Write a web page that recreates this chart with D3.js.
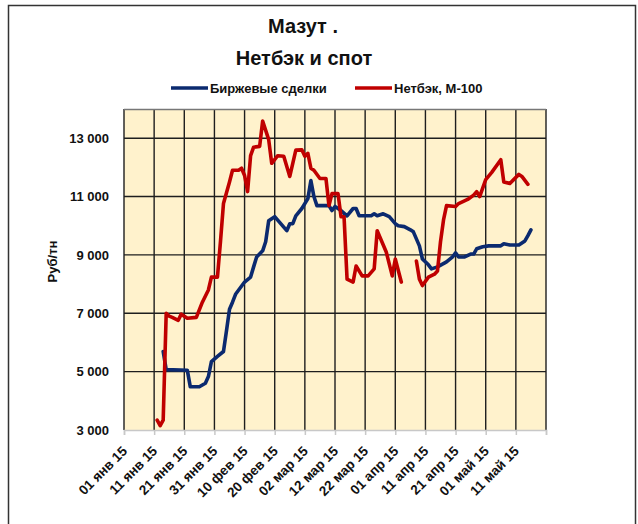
<!DOCTYPE html>
<html>
<head>
<meta charset="utf-8">
<script src="https://cdn.jsdelivr.net/npm/d3@7"></script>
<style>
  body { margin: 0; background: #fff; }
  svg { display: block; font-family: 'Liberation Sans', Arial, sans-serif; }
</style>
</head>
<body>
<div id="wrapper"></div>
<script>
// Биржевые сделки (spot)
const spotDates = [
  '2015-01-14', '2015-01-15', '2015-01-22', '2015-01-23', '2015-01-26', '2015-01-28',
  '2015-01-29', '2015-01-30', '2015-02-01', '2015-02-03', '2015-02-04', '2015-02-05',
  '2015-02-06', '2015-02-07', '2015-02-10', '2015-02-12', '2015-02-13', '2015-02-14',
  '2015-02-16', '2015-02-17', '2015-02-18', '2015-02-20', '2015-02-22', '2015-02-24',
  '2015-02-25', '2015-02-26', '2015-02-27', '2015-03-01', '2015-03-03', '2015-03-04',
  '2015-03-05', '2015-03-06', '2015-03-10', '2015-03-11', '2015-03-12', '2015-03-14',
  '2015-03-16', '2015-03-18', '2015-03-19', '2015-03-20', '2015-03-24', '2015-03-25',
  '2015-03-26', '2015-03-28', '2015-03-30', '2015-04-01', '2015-04-02', '2015-04-04',
  '2015-04-06', '2015-04-07', '2015-04-09', '2015-04-10', '2015-04-12', '2015-04-13',
  '2015-04-15', '2015-04-18', '2015-04-20', '2015-04-21', '2015-04-22', '2015-04-24',
  '2015-04-26', '2015-04-27', '2015-04-28', '2015-04-30', '2015-05-02', '2015-05-06',
  '2015-05-07', '2015-05-09', '2015-05-12', '2015-05-14', '2015-05-15', '2015-05-16',
]
const spotValues = [
  5690, 5070, 5050, 4480, 4480, 4600,
  4830, 5340, 5520, 5690, 6400, 7140,
  7380, 7650, 8070, 8240, 8590, 8930,
  9140, 9450, 10170, 10310, 10070, 9830,
  10070, 10070, 10340, 10590, 10930, 11550,
  11000, 10690, 10690, 10520, 10660, 10520,
  10340, 10590, 10590, 10340, 10340, 10410,
  10340, 10410, 10310, 10070, 10000, 9970,
  9860, 9790, 9310, 8860, 8660, 8520,
  8590, 8760, 8930, 9070, 8930, 8930,
  9030, 9030, 9210, 9280, 9310, 9310,
  9380, 9340, 9340, 9480, 9660, 9860,
]

// Нетбэк, М-100 (null = no data)
const netbackDates = [
  '2015-01-12', '2015-01-13', '2015-01-14', '2015-01-15', '2015-01-16', '2015-01-17',
  '2015-01-19', '2015-01-20', '2015-01-22', '2015-01-25', '2015-01-27', '2015-01-29',
  '2015-01-30', '2015-02-01', '2015-02-02', '2015-02-03', '2015-02-05', '2015-02-06',
  '2015-02-08', '2015-02-09', '2015-02-10', '2015-02-11', '2015-02-12', '2015-02-13',
  '2015-02-15', '2015-02-16', '2015-02-18', '2015-02-19', '2015-02-21', '2015-02-23',
  '2015-02-25', '2015-02-27', '2015-03-01', '2015-03-02', '2015-03-03', '2015-03-04',
  '2015-03-05', '2015-03-07', '2015-03-09', '2015-03-10', '2015-03-11', '2015-03-13',
  '2015-03-14', '2015-03-15', '2015-03-16', '2015-03-18', '2015-03-19', '2015-03-21',
  '2015-03-23', '2015-03-25', '2015-03-26', '2015-03-29', '2015-03-31', '2015-04-01',
  '2015-04-03', '2015-04-05', '2015-04-08', '2015-04-09', '2015-04-10', '2015-04-12',
  '2015-04-14', '2015-04-15', '2015-04-16', '2015-04-17', '2015-04-18', '2015-04-21',
  '2015-04-22', '2015-04-25', '2015-04-27', '2015-04-28', '2015-04-29', '2015-05-01',
  '2015-05-03', '2015-05-06', '2015-05-07', '2015-05-09', '2015-05-12', '2015-05-13',
  '2015-05-15',
]
const netbackValues = [
  3340, 3150, 3340, 7000, 6900, 6860,
  6760, 6970, 6830, 6860, 7380, 7800,
  8240, 8240, 9450, 10760, 11500, 11900,
  11900, 11970, 11720, 11170, 12400, 12690,
  12720, 13590, 12950, 12140, 12400, 12380,
  11690, 12590, 12600, 12380, 12480, 11970,
  11900, 11620, 11620, 10690, 11100, 11100,
  10310, 10310, 8170, 8070, 8620, 8280,
  8280, 8520, 9830, 9100, 8280, 8860,
  8070, null, 8790, 8170, 7950, 8240,
  8340, 8450, 9450, 10200, 10690, 10660,
  10760, 10900, 11050, 11170, 11000, 11580,
  11830, 12260, 11500, 11450, 11760, 11690,
  11420,
]

const xTickDates = [
  '2015-01-01', '2015-01-11', '2015-01-21', '2015-01-31', '2015-02-10', '2015-02-20',
  '2015-03-02', '2015-03-12', '2015-03-22', '2015-04-01', '2015-04-11', '2015-04-21',
  '2015-05-01', '2015-05-11',
]
const xTickLabels = [
  '01 янв 15', '11 янв 15', '21 янв 15', '31 янв 15', '10 фев 15', '20 фев 15',
  '02 мар 15', '12 мар 15', '22 мар 15', '01 апр 15', '11 апр 15', '21 апр 15',
  '01 май 15', '11 май 15',
]
const yTicks = [3000, 5000, 7000, 9000, 11000, 13000]

const seriesNames = ['Биржевые сделки', 'Нетбэк, М-100']
const seriesColors = ['#0b2a6f', '#c00000']

const parseDate = d3.timeParse('%Y-%m-%d')

const dimensions = {
  width: 638,
  height: 524,
  margin: { top: 109, right: 92, bottom: 94, left: 124 },
}
dimensions.boundedWidth = dimensions.width - dimensions.margin.left - dimensions.margin.right
dimensions.boundedHeight = dimensions.height - dimensions.margin.top - dimensions.margin.bottom

const wrapper = d3.select('#wrapper')
  .append('svg')
  .attr('width', dimensions.width)
  .attr('height', dimensions.height)

// chart frame
wrapper.append('rect')
  .attr('x', 8.5)
  .attr('y', 5.5)
  .attr('width', 627)
  .attr('height', 540)
  .attr('fill', 'none')
  .attr('stroke', '#333')
  .attr('stroke-width', 1.5)

// titles
wrapper.append('text')
  .attr('x', 303)
  .attr('y', 33)
  .attr('text-anchor', 'middle')
  .attr('font-size', 20)
  .attr('font-weight', 'bold')
  .attr('fill', '#111')
  .text('Мазут .')

wrapper.append('text')
  .attr('x', 304)
  .attr('y', 65)
  .attr('text-anchor', 'middle')
  .attr('font-size', 20)
  .attr('font-weight', 'bold')
  .attr('fill', '#111')
  .text('Нетбэк и спот')

// legend
const legendX = [171, 355]
seriesNames.forEach((name, i) => {
  const g = wrapper.append('g')
    .attr('transform', `translate(${legendX[i]}, 88)`)
  g.append('line')
    .attr('x1', 0).attr('x2', 37)
    .attr('stroke', seriesColors[i])
    .attr('stroke-width', 3.5)
  g.append('text')
    .attr('x', 39)
    .attr('y', 4.5)
    .attr('font-size', 13)
    .attr('font-weight', 'bold')
    .attr('fill', '#111')
    .text(name)
})

const bounds = wrapper.append('g')
  .attr('transform', `translate(${dimensions.margin.left}, ${dimensions.margin.top})`)

const xScale = d3.scaleTime()
  .domain([parseDate('2015-01-01'), parseDate('2015-05-21')])
  .range([0, dimensions.boundedWidth])

const yScale = d3.scaleLinear()
  .domain([3000, 14000])
  .range([dimensions.boundedHeight, 0])

bounds.append('rect')
  .attr('width', dimensions.boundedWidth)
  .attr('height', dimensions.boundedHeight)
  .attr('fill', '#fff2cc')

// grid
const gridX = xTickDates.map(parseDate).concat([parseDate('2015-05-21')])
bounds.append('g')
  .selectAll('line')
  .data(gridX)
  .join('line')
  .attr('x1', d => xScale(d))
  .attr('x2', d => xScale(d))
  .attr('y1', 0)
  .attr('y2', dimensions.boundedHeight)
  .attr('stroke', '#1e1e1e')
  .attr('stroke-width', 1.4)

bounds.append('g')
  .selectAll('line')
  .data(yTicks.slice(1))
  .join('line')
  .attr('x1', 0)
  .attr('x2', dimensions.boundedWidth)
  .attr('y1', d => yScale(d))
  .attr('y2', d => yScale(d))
  .attr('stroke', '#1e1e1e')
  .attr('stroke-width', 1.4)

bounds.append('line')
  .attr('x1', 0)
  .attr('x2', dimensions.boundedWidth)
  .attr('y1', 0.5)
  .attr('y2', 0.5)
  .attr('stroke', '#777')
  .attr('stroke-width', 1.5)

// x axis
const xAxisGenerator = d3.axisBottom(xScale)
  .tickValues(gridX)
  .tickSize(5)
  .tickFormat(() => '')

const xAxis = bounds.append('g')
  .attr('transform', `translate(0, ${dimensions.boundedHeight})`)
  .call(xAxisGenerator)
xAxis.selectAll('path, line').attr('stroke', '#c8c8c8').attr('stroke-width', 1.5)

bounds.append('g')
  .selectAll('text')
  .data(xTickDates)
  .join('text')
  .attr('transform', d => `translate(${xScale(parseDate(d)) + 4}, ${dimensions.boundedHeight + 22}) rotate(-45)`)
  .attr('text-anchor', 'end')
  .attr('font-size', 13.5)
  .attr('font-weight', 'bold')
  .attr('fill', '#111')
  .text((d, i) => xTickLabels[i])

// y axis
const yAxisGenerator = d3.axisLeft(yScale)
  .tickValues(yTicks)
  .tickSize(0)
  .tickPadding(15)
  .tickFormat(d => d3.format(',')(d).replace(',', ' '))

const yAxis = bounds.append('g')
  .call(yAxisGenerator)
yAxis.select('.domain').remove()
yAxis.selectAll('text')
  .attr('font-size', 13)
  .attr('font-weight', 'bold')
  .attr('font-family', "'Liberation Sans', Arial, sans-serif")
  .attr('fill', '#111')

yAxis.append('text')
  .attr('x', -dimensions.boundedHeight / 2 + 8)
  .attr('y', -67)
  .attr('fill', '#111')
  .attr('font-size', 13)
  .attr('font-weight', 'bold')
  .attr('font-family', "'Liberation Sans', Arial, sans-serif")
  .attr('text-anchor', 'middle')
  .attr('transform', 'rotate(-90)')
  .text('Руб/тн')

// lines
const lineGenerator = d3.line()
  .defined(d => d.value !== null)
  .x(d => xScale(d.date))
  .y(d => yScale(d.value))

const spotData = spotDates.map((d, i) => ({ date: parseDate(d), value: spotValues[i] }))
const netbackData = netbackDates.map((d, i) => ({ date: parseDate(d), value: netbackValues[i] }))

;[spotData, netbackData].forEach((data, i) => {
  bounds.append('path')
    .datum(data)
    .attr('d', lineGenerator)
    .attr('fill', 'none')
    .attr('stroke', seriesColors[i])
    .attr('stroke-width', 3.6)
    .attr('stroke-linejoin', 'round')
    .attr('stroke-linecap', 'round')
})
</script>
</body>
</html>
